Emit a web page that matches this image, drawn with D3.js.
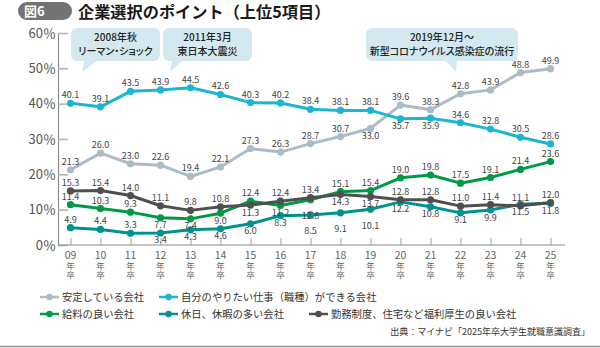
<!DOCTYPE html>
<html lang="ja">
<head>
<meta charset="utf-8">
<script src="https://cdn.jsdelivr.net/npm/d3@7"></script>
<style>
  body { margin: 0; background: #fff; }
  svg { display: block; font-family: "Noto Sans CJK JP", sans-serif; }
  .num { font-family: "Liberation Sans Narrow", "Arial Narrow", "Noto Sans CJK JP", sans-serif; }
  .callout { font-feature-settings: "palt"; }
</style>
</head>
<body>
<svg id="chart" width="600" height="348"></svg>
<script>
// survey years (graduation year, 20xx)
const years = ["09", "10", "11", "12", "13", "14", "15", "16", "17", "18", "19", "20", "21", "22", "23", "24", "25"];

// share of students choosing each point, %
const stable   = [21.3, 26.0, 23.0, 22.6, 19.4, 22.1, 27.3, 26.3, 28.7, 30.7, 33.0, 39.6, 38.3, 42.8, 43.9, 48.8, 49.9];
const ownWork  = [40.1, 39.1, 43.5, 43.9, 44.5, 42.6, 40.3, 40.2, 38.4, 38.1, 38.1, 35.7, 35.9, 34.6, 32.8, 30.5, 28.6];
const salary   = [11.4, 10.3, 9.3, 7.7, 7.4, 9.0, 12.4, 11.2, 12.8, 15.1, 15.4, 19.0, 19.8, 17.5, 19.1, 21.4, 23.6];
const holidays = [4.9, 4.4, 3.3, 3.4, 4.3, 4.6, 6.0, 8.3, 8.5, 9.1, 10.1, 12.2, 10.8, 9.1, 9.9, 11.5, 11.8];
const welfare  = [15.3, 15.4, 14.0, 11.1, 9.8, 10.8, 11.3, 12.4, 13.4, 14.3, 13.7, 12.8, 12.8, 11.0, 11.4, 11.1, 12.0];

const yTicks = [0, 10, 20, 30, 40, 50, 60];

// sides: a = label above the point, b = below, B = further below
const series = [
  { name: "安定している会社", values: stable, color: "#a9bcc8", sides: "aaaaaaaaaabaaaaaa" },
  { name: "自分のやりたい仕事（職種）ができる会社", values: ownWork, color: "#1db5d1", sides: "aaaaaaaaaaabbaaaa" },
  { name: "休日、休暇の多い会社", values: holidays, color: "#00928f", sides: "aaabbbbbBBBbbbbbb" },
  { name: "給料の良い会社", values: salary, color: "#009a46", sides: "aaabbbabBaaaaaaaa" },
  { name: "勤務制度、住宅など福利厚生の良い会社", values: welfare, color: "#4f4f4f", sides: "aaaaaabaabbaaaaaa" }
];

const svg = d3.select("#chart");

const x = d3.scalePoint().domain(years).range([70.5, 550.5]);
const y = d3.scaleLinear().domain([0, 60]).range([245, 33]);

// title
svg.append("rect")
    .attr("x", 18).attr("y", 2).attr("width", 54).attr("height", 18)
    .attr("rx", 9).attr("fill", "#737373");
svg.append("text")
    .attr("x", 24).attr("y", 16)
    .attr("fill", "#fff").attr("font-size", 13).attr("font-weight", 700)
    .text("図6");
svg.append("text")
    .attr("x", 78).attr("y", 18)
    .attr("fill", "#1a1a1a").attr("font-size", 16.2).attr("font-weight", 700)
    .text("企業選択のポイント（上位5項目）");

// event callouts
const callouts = [
  { lines: ["2008年秋", "リーマン・ショック"], x0: 71, x1: 160, tail: [84, 97, 82] },
  { lines: ["2011年3月", "東日本大震災"], x0: 163, x1: 252, tail: [172, 182, 170] },
  { lines: ["2019年12月～", "新型コロナウイルス感染症の流行"], x0: 366, x1: 518, tail: [446, 457, 456] }
];
const boxTop = 28, boxBottom = 61, r = 6, tipY = 72;

callouts.forEach(c => {
  const p = d3.path();
  p.moveTo(c.x0 + r, boxTop);
  p.lineTo(c.x1 - r, boxTop);
  p.arcTo(c.x1, boxTop, c.x1, boxTop + r, r);
  p.lineTo(c.x1, boxBottom - r);
  p.arcTo(c.x1, boxBottom, c.x1 - r, boxBottom, r);
  p.lineTo(c.tail[1], boxBottom);
  p.lineTo(c.tail[2], tipY);
  p.lineTo(c.tail[0], boxBottom);
  p.lineTo(c.x0 + r, boxBottom);
  p.arcTo(c.x0, boxBottom, c.x0, boxBottom - r, r);
  p.lineTo(c.x0, boxTop + r);
  p.arcTo(c.x0, boxTop, c.x0 + r, boxTop, r);
  p.closePath();
  svg.append("path").attr("d", p.toString()).attr("fill", "#d3e9ef");

  const cx = (c.x0 + c.x1) / 2;
  c.lines.forEach((t, i) => {
    svg.append("text")
        .attr("class", "callout")
        .attr("x", cx).attr("y", 41 + i * 14)
        .attr("text-anchor", "middle")
        .attr("font-size", 10).attr("font-weight", 500)
        .attr("fill", "#222")
        .text(t);
  });
});

// y axis, ticks pointing inward
const yAxis = svg.append("g")
    .attr("transform", "translate(58,0)")
    .call(d3.axisLeft(y).tickValues(yTicks).tickSize(-10).tickPadding(2).tickFormat(d => d + "％"));
yAxis.select(".domain").attr("stroke", "#8c8c8c").attr("stroke-width", 1.2);
yAxis.selectAll(".tick line").attr("stroke", "#b5b5b5").attr("stroke-width", 1.6);
yAxis.selectAll(".tick text")
    .attr("class", "num")
    .attr("font-size", 13).attr("fill", "#555");

// x axis
const xAxis = svg.append("g")
    .attr("transform", "translate(0,245)")
    .call(d3.axisBottom(x).tickSizeInner(-7).tickSizeOuter(0).tickFormat(""));
xAxis.select(".domain").remove();
xAxis.selectAll(".tick line").attr("stroke", "#c4c4c4").attr("stroke-width", 1.6);
svg.append("line")
    .attr("x1", 58).attr("x2", 565).attr("y1", 245).attr("y2", 245)
    .attr("stroke", "#8c8c8c").attr("stroke-width", 1.2);

// stacked "09 / 年 / 卒" category labels
const xLab = svg.append("g").attr("fill", "#666").attr("text-anchor", "middle");
years.forEach(yr => {
  xLab.append("text").attr("class", "num")
      .attr("x", x(yr)).attr("y", 258.5).attr("font-size", 10.5).text(yr);
  xLab.append("text")
      .attr("x", x(yr)).attr("y", 268.5).attr("font-size", 8.5).text("年");
  xLab.append("text")
      .attr("x", x(yr)).attr("y", 277.5).attr("font-size", 8.5).text("卒");
});

// lines and markers
const line = d3.line().x((d, i) => x(years[i])).y(d => y(d));

series.forEach(s => {
  svg.append("path")
      .datum(s.values)
      .attr("d", line)
      .attr("fill", "none")
      .attr("stroke", s.color)
      .attr("stroke-width", 3)
      .attr("stroke-linejoin", "round");
  svg.append("g").selectAll("circle")
      .data(s.values)
      .join("circle")
      .attr("cx", (d, i) => x(years[i]))
      .attr("cy", d => y(d))
      .attr("r", 3.6)
      .attr("fill", s.color);
});

// value labels
const labelDy = { a: -5, b: 10.5, B: 19.5 };
const labels = svg.append("g")
    .attr("class", "num")
    .attr("font-size", 9)
    .attr("fill", "#444")
    .attr("text-anchor", "middle");

series.forEach(s => {
  s.values.forEach((v, i) => {
    labels.append("text")
        .attr("x", x(years[i]))
        .attr("y", y(v) + labelDy[s.sides[i]])
        .text(v.toFixed(1));
  });
});

// legend
const legendItems = [
  { s: series[0], x: 40, y: 297 },
  { s: series[1], x: 159, y: 297 },
  { s: series[3], x: 40, y: 314 },
  { s: series[2], x: 159, y: 314 },
  { s: series[4], x: 309, y: 314 }
];
const legend = svg.append("g");
legendItems.forEach(it => {
  const g = legend.append("g").attr("transform", `translate(${it.x},${it.y})`);
  g.append("line").attr("x1", 0).attr("x2", 19).attr("stroke", it.s.color).attr("stroke-width", 2.5);
  g.append("circle").attr("cx", 9.5).attr("r", 3.2).attr("fill", it.s.color);
  g.append("text")
      .attr("x", 22).attr("dy", "0.36em")
      .attr("font-size", 10.3).attr("fill", "#333")
      .text(it.s.name);
});

// source note and bottom rule
svg.append("text")
    .attr("x", 590).attr("y", 335)
    .attr("text-anchor", "end")
    .attr("font-size", 9).attr("fill", "#333")
    .text("出典：マイナビ「2025年卒大学生就職意識調査」");
svg.append("line")
    .attr("x1", 0).attr("x2", 600).attr("y1", 346.5).attr("y2", 346.5)
    .attr("stroke", "#8f8f8f").attr("stroke-width", 1.5);
</script>
</body>
</html>
